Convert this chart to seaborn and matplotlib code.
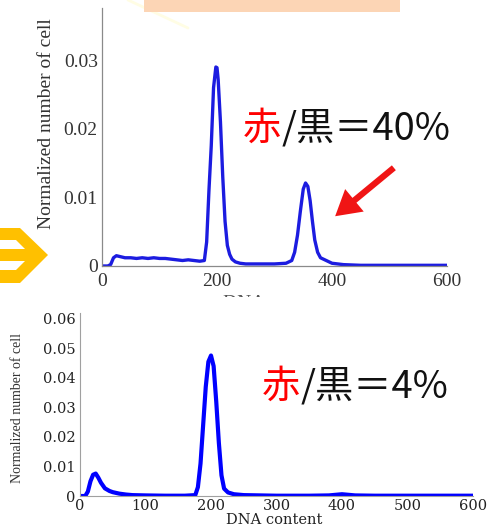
import numpy as np
import pandas as pd
import seaborn as sns
import matplotlib.pyplot as plt
from matplotlib.patches import Polygon, Rectangle, FancyArrowPatch
from matplotlib.lines import Line2D

# ---------------- data ----------------
top_x = [0, 10, 15, 20, 25, 30, 40, 50, 60, 70, 80, 90, 100, 110, 120, 130, 140, 150,
         160, 170, 178, 182, 186, 190, 194, 198, 200, 202, 206, 210, 214, 218, 222, 226,
         232, 240, 250, 260, 280, 300, 320, 330, 335, 340, 345, 350, 354, 358, 362, 366,
         370, 375, 380, 390, 400, 420, 450, 500, 550, 600]
top_y = [0.0000, 0.0000, 0.0002, 0.0012, 0.0015, 0.0014, 0.0012, 0.0012, 0.0011, 0.0012,
         0.0011, 0.0012, 0.0011, 0.0011, 0.0010, 0.0009, 0.0008, 0.0009, 0.0008, 0.0007,
         0.0008, 0.0035, 0.0110, 0.0175, 0.0260, 0.0290, 0.0289, 0.0272, 0.0210, 0.0130,
         0.0065, 0.0030, 0.0017, 0.0010, 0.0006, 0.0004, 0.0003, 0.0003, 0.0003, 0.0003,
         0.0004, 0.0008, 0.0020, 0.0045, 0.0080, 0.0112, 0.0121, 0.0116, 0.0095, 0.0065,
         0.0038, 0.0020, 0.0012, 0.0008, 0.0004, 0.0002, 0.0001, 0.0001, 0.0001, 0.0001]

bot_x = [0, 8, 12, 16, 20, 24, 28, 32, 38, 45, 50, 60, 70, 80, 100, 130, 160, 176, 180,
         184, 188, 192, 196, 200, 204, 208, 212, 216, 220, 226, 235, 250, 300, 350, 380,
         390, 400, 410, 420, 450, 500, 550, 600]
bot_y = [0.0000, 0.0000, 0.0015, 0.0050, 0.0072, 0.0076, 0.0062, 0.0045, 0.0026, 0.0017,
         0.0013, 0.0008, 0.0005, 0.0003, 0.0002, 0.0001, 0.0001, 0.0003, 0.0030, 0.0110,
         0.0240, 0.0370, 0.0455, 0.0476, 0.0440, 0.0320, 0.0180, 0.0070, 0.0025, 0.0012,
         0.0006, 0.0003, 0.0001, 0.0001, 0.0002, 0.0004, 0.0006, 0.0004, 0.0002, 0.0001,
         0.0001, 0.0001, 0.0001]

top_xticks = [0, 200, 400, 600]
top_yticks = [0, 0.01, 0.02, 0.03]
top_yticklabels = ["0", "0.01", "0.02", "0.03"]
bot_xticks = [0, 100, 200, 300, 400, 500, 600]
bot_yticks = [0, 0.01, 0.02, 0.03, 0.04, 0.05, 0.06]
bot_yticklabels = ["0", "0.01", "0.02", "0.03", "0.04", "0.05", "0.06"]
ylabel_text = "Normalized number of cell"
xlabel_text = "DNA content"
ann_top = ["赤", "/黒＝40%"]
ann_bot = ["赤", "/黒＝4%"]

# ---------------- figure ----------------
sns.set_theme(style="white")
plt.rcParams['font.family'] = ['Liberation Serif', 'DejaVu Serif']

W, H = 488, 527
fig = plt.figure(figsize=(W / 100, H / 100), dpi=100)
fig.patch.set_facecolor("white")


def fx(px):
    return px / W


def fy(py):
    return 1 - py / H


cjk = ['Noto Sans CJK JP', 'DejaVu Sans']

# ---- top panel ----
ax1 = fig.add_axes([fx(102), fy(266), (447 - 102) / W, (266 - 8) / H])
ax1.set_zorder(1)
df_top = pd.DataFrame({"x": top_x, "y": top_y})
sns.lineplot(data=df_top, x="x", y="y", ax=ax1, color="#1c1ce0", lw=2.4, sort=True)
ax1.set_xlim(0, 600)
ax1.set_ylim(0, 0.0376)
ax1.set_xticks(top_xticks)
ax1.set_xticklabels([str(v) for v in top_xticks])
ax1.set_yticks(top_yticks)
ax1.set_yticklabels(top_yticklabels)
ax1.set_xlabel("")
ax1.set_ylabel("")
for s in ["top", "right"]:
    ax1.spines[s].set_visible(False)
for s in ["left", "bottom"]:
    ax1.spines[s].set_color("#8a8a8a")
    ax1.spines[s].set_linewidth(0.9)
ax1.tick_params(axis="both", direction="in", length=4, width=0.8, color="#8a8a8a",
                labelsize=14, labelcolor="#333333")
ax1.tick_params(axis="x", pad=5)
ax1.tick_params(axis="y", pad=3)
ax1.patch.set_alpha(0)

fig.text(fx(47), fy(124), ylabel_text, rotation=90, ha="center", va="center",
         fontsize=14, color="#333333", family="Liberation Serif", zorder=1)
fig.text(fx(275), fy(303), xlabel_text, ha="center", va="center",
         fontsize=14, color="#555555", family="Liberation Serif", zorder=1)

# white sheet on which the second panel sits (hides the cut top label)
fig.add_artist(Rectangle((0, 0), 1, fy(297), transform=fig.transFigure,
                         facecolor="white", edgecolor="none", zorder=3))

# ---- bottom panel ----
ax2 = fig.add_axes([fx(80), fy(496), (473 - 80) / W, (496 - 313) / H])
ax2.set_zorder(5)
df_bot = pd.DataFrame({"x": bot_x, "y": bot_y})
sns.lineplot(data=df_bot, x="x", y="y", ax=ax2, color="#0000ff", lw=3.0, sort=True)
ax2.set_xlim(0, 600)
ax2.set_ylim(0, 0.062)
ax2.set_xticks(bot_xticks)
ax2.set_xticklabels([str(v) for v in bot_xticks])
ax2.set_yticks(bot_yticks)
ax2.set_yticklabels(bot_yticklabels)
ax2.set_xlabel("")
ax2.set_ylabel("")
for s in ["top", "right"]:
    ax2.spines[s].set_visible(False)
for s in ["left", "bottom"]:
    ax2.spines[s].set_color("#a0a0a0")
    ax2.spines[s].set_linewidth(0.8)
ax2.tick_params(axis="both", direction="in", length=3.5, width=0.7, color="#a0a0a0",
                labelsize=10.5, labelcolor="#222222")
for lab in ax2.get_xticklabels() + ax2.get_yticklabels():
    lab.set_family("DejaVu Serif")
ax2.tick_params(axis="x", pad=2)
ax2.tick_params(axis="y", pad=3)

fig.text(fx(18), fy(408), ylabel_text, rotation=90, ha="center", va="center",
         fontsize=10, color="#333333", family="Liberation Serif", zorder=6)
fig.text(fx(274), fy(520.5), xlabel_text, ha="center", va="center",
         fontsize=10.5, color="#222222", family="DejaVu Serif", zorder=6)

# ---- annotations ----
t1 = fig.text(fx(243), fy(129), ann_top[0], color="#ff0000", fontsize=27.5,
              family=cjk, ha="left", va="center", zorder=7)
ax2.annotate(ann_top[1], xy=(1, 0.5), xycoords=t1, ha="left", va="center",
             fontsize=27.5, family=cjk, color="#111111", zorder=7)

t2 = fig.text(fx(262), fy(387), ann_bot[0], color="#ff0000", fontsize=27.5,
              family=cjk, ha="left", va="center", zorder=7)
ax2.annotate(ann_bot[1], xy=(1, 0.5), xycoords=t2, ha="left", va="center",
             fontsize=27.5, family=cjk, color="#111111", zorder=7)

# red arrow pointing at the second peak
fig.add_artist(FancyArrowPatch((fx(396), fy(166)), (fx(333), fy(218)),
                               transform=fig.transFigure,
                               arrowstyle="simple,head_length=1.8,head_width=2.1,tail_width=0.45",
                               mutation_scale=10, color="#f01515", lw=0, zorder=8))

# orange box at top
fig.add_artist(Rectangle((fx(144), fy(12)), (400 - 144) / W, 12 / H,
                         transform=fig.transFigure, facecolor="#fcd5b5",
                         edgecolor="none", zorder=8))
# faint watermark stroke
fig.add_artist(Line2D([fx(128), fx(188)], [fy(0), fy(28)], transform=fig.transFigure,
                      color="#fffde4", lw=2, zorder=0))

# orange arrow at left edge
arrow_px = [(0, 228), (20, 228), (48, 255), (20, 283), (0, 283), (0, 270), (16, 270),
            (25, 261), (0, 261), (0, 249), (25, 249), (16, 240), (0, 240)]
fig.add_artist(Polygon([(fx(a), fy(b)) for a, b in arrow_px], closed=True,
                       transform=fig.transFigure, facecolor="#ffc000",
                       edgecolor="none", zorder=8))

fig.savefig("out.png", dpi=100)
